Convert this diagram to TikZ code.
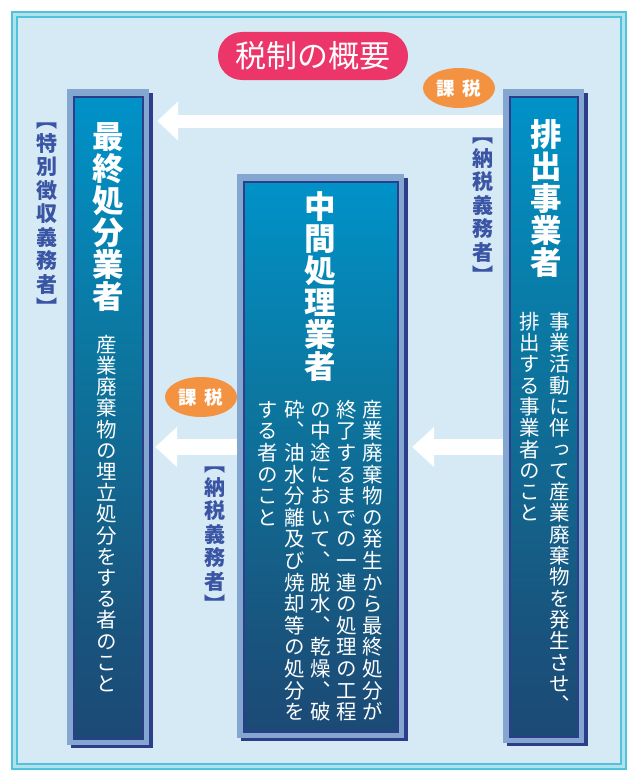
\documentclass[tikz,border=0pt]{standalone}
\usepackage{fontspec}
\usetikzlibrary{shapes.geometric,shapes.misc,arrows.meta,fit,calc}
\newfontfamily\jp{Noto Sans CJK JP}[RawFeature=+vert]
\newfontfamily\jph{Noto Sans CJK JP}
\definecolor{bg}{HTML}{D6EAF5}
\definecolor{frameline}{HTML}{4FC3DC}
\definecolor{framefill}{HTML}{B2E1EE}
\definecolor{pink}{HTML}{EC3568}
\definecolor{orng}{HTML}{F39241}
\definecolor{boxlight}{HTML}{84A7D2}
\definecolor{boxnavy}{HTML}{2D3D8A}
\definecolor{lbl}{HTML}{3B55A5}
\definecolor{g0}{HTML}{223563}
\definecolor{g1}{HTML}{1F3D6C}
\definecolor{g2}{HTML}{18567F}
\definecolor{g3}{HTML}{0C769F}
\definecolor{g4}{HTML}{0092C8}
\definecolor{g5}{HTML}{08A0D8}
\definecolor{g6}{HTML}{48B4E2}
\pgfdeclareverticalshading{boxgrad}{100bp}{color(0bp)=(g0); color(15bp)=(g1); color(35bp)=(g2); color(55bp)=(g3); color(75bp)=(g4); color(92bp)=(g5); color(100bp)=(g6)}
\ExplSyntaxOn
\NewDocumentCommand\vcol{mm}{
  \vbox{\offinterlineskip
    \tl_map_inline:nn {#2}
      {\vbox to #1 {\hbox to 1em {\vrule height .88em depth .12em width 0pt \hss ##1 \hss}\vss}}
  }
}
\ExplSyntaxOff
\tikzset{
  boxframe/.style={fill=boxlight, draw=none, inner sep=0pt},
  boxinner/.style={shading=boxgrad, draw=boxnavy, line width=1.3pt},
  vtitle/.style={anchor=north, inner sep=0pt, text=white, font=\jp\bfseries\fontsize{31.5pt}{32pt}\selectfont},
  vbody/.style={anchor=north, inner sep=0pt, text=white, font=\jp\fontsize{20.5pt}{21pt}\selectfont},
  vlabel/.style={anchor=north, inner sep=0pt, text=lbl, font=\jp\bfseries\fontsize{21pt}{23pt}\selectfont},
  taxtag/.style={ellipse, fill=orng, minimum width=72pt, minimum height=40pt, inner sep=0pt, text=white, font=\jph\bfseries\fontsize{18.5pt}{19pt}\selectfont},
  titlepill/.style={rounded rectangle, fill=pink, minimum width=190pt, minimum height=48pt, inner sep=0pt, text=white, font=\jph\fontsize{31pt}{31pt}\selectfont},
  arrowA/.style={draw=white, line width=13pt, -{Triangle[length=21pt, width=38pt]}},
  arrowB/.style={draw=white, line width=16pt, -{Triangle[length=22pt, width=39pt]}},
}
\newcommand\wastebox[5]{%
  \fill[boxnavy] (#2+4,#3+4) rectangle (#4+4,#5+3);
  \node[boxframe, fit={(#2,#3) (#4,#5)}] (#1) {};
  \path[boxinner] (#2+7,#3+8) rectangle (#4-6,#5-6);
}
\begin{document}
\begin{tikzpicture}[x=1pt, y=-1pt]
\useasboundingbox (0,0) rectangle (635,776);
\fill[white] (0,0) rectangle (635,776);
\fill[framefill] (12,12) rectangle (626,769);
\draw[frameline, line width=1.6pt] (12,12) rectangle (626,769);
\fill[bg] (17,17) rectangle (621,764);
\draw[frameline, line width=1.6pt] (17,17) rectangle (621,764);

% boxes
\wastebox{L}{67}{89}{149}{745}
\wastebox{M}{237}{174}{404}{738}
\wastebox{R}{503}{89}{584}{743}

% arrows
\draw[arrowA] (R.west |- 0,121) -- ([xshift=8pt]L.east |- 0,121);
\draw[arrowB] (M.west |- 0,447) -- ([xshift=6pt]L.east |- 0,447);
\draw[arrowB] (R.west |- 0,447) -- ([xshift=8pt]M.east |- 0,447);

% title and tags
\node[titlepill] (title) at (313,56) {税制の概要};
\node[taxtag] (tax1) at (459,88) {課\hspace{0.4em}税};
\node[taxtag] (tax2) at (201,397) {課\hspace{0.4em}税};

% box titles
\node[vtitle] (Lt) at (108,121) {\vcol{32pt}{最終処分業者}};
\node[vtitle] (Mt) at (320,191) {\vcol{32pt}{中間処理業者}};
\node[vtitle] (Rt) at (546,119) {\vcol{32pt}{排出事業者}};

% labels
\node[vlabel] (lab1) at (47,109) {\vcol{23.5pt}{︻特別徴収義務者︼}};
\node[vlabel] (lab2) at (483,124) {\vcol{23.5pt}{︻納税義務者︼}};
\node[vlabel] (lab3) at (215,453) {\vcol{23.5pt}{︻納税義務者︼}};

% body texts
\node[vbody] (Lb) at (107,334) {\vcol{21.2pt}{産業廃棄物の埋立処分をする者のこと}};
\node[vbody] (Mb1) at (373,399) {\vcol{21.6pt}{産業廃棄物の発生から最終処分が}};
\node[vbody] (Mb2) at (347,399) {\vcol{21.6pt}{終了するまでの一連の処理の工程}};
\node[vbody] (Mb3) at (321,399) {\vcol{21.6pt}{の中途において︑脱水︑乾燥︑破}};
\node[vbody] (Mb4) at (295,399) {\vcol{21.6pt}{砕︑油水分離及び焼却等の処分を}};
\node[vbody] (Mb5) at (268,399) {\vcol{21.6pt}{する者のこと}};
\node[vbody] (Rb1) at (560,311) {\vcol{21.3pt}{事業活動に伴って産業廃棄物を発生させ︑}};
\node[vbody] (Rb2) at (530,311) {\vcol{21.3pt}{排出する事業者のこと}};
\end{tikzpicture}
\end{document}
